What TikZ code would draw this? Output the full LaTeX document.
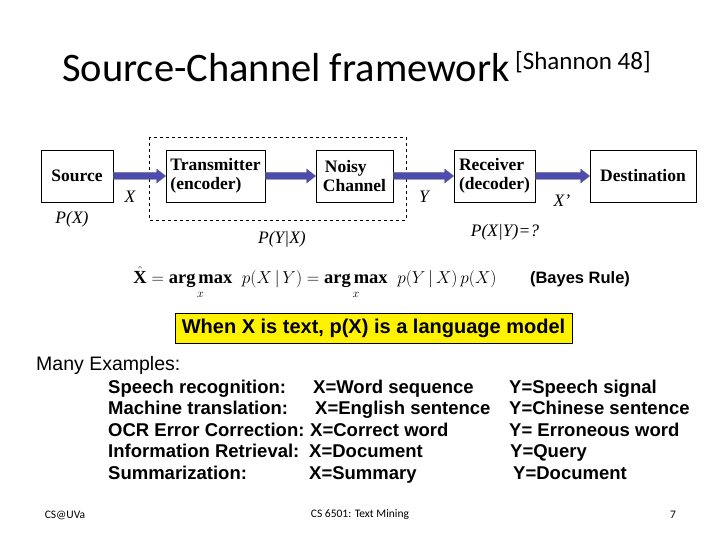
\documentclass[tikz,border=0pt]{standalone}
\usepackage{amsmath}
\usepackage{fontspec}
\setmainfont{Liberation Serif}
\newfontfamily\calfont{Carlito}
\newfontfamily\ars{Liberation Sans}
\usetikzlibrary{arrows.meta}
\begin{document}
\begin{tikzpicture}[x=1pt,y=-1pt,
 box/.style={draw,line width=0.6pt,font=\bfseries\fontsize{17.5}{19}\selectfont,align=left,inner sep=0pt},
 lab/.style={font=\itshape\fontsize{17.5}{19}\selectfont,inner sep=0pt},
 flow/.style={draw=black!60,fill=blue!55!black!70!white,line width=0.3pt},
 ex/.style={font=\ars\bfseries\fontsize{18.5}{20}\selectfont,anchor=base west,inner sep=0pt}]
\useasboundingbox (0,0) rectangle (720,540);
\node[anchor=base west,inner sep=0pt,font=\calfont\fontsize{40.5}{44}\selectfont] (title) at (62,82) {Source-Channel framework};
\node[anchor=base west,inner sep=0pt,font=\calfont\fontsize{25}{28}\selectfont] (sh) at (515,70) {[Shannon 48]};
% boxes
\draw[dashed,line width=0.6pt] (149,137) rectangle (406,220);
\node[box,minimum width=72,minimum height=52] (src) at (77,176) {Source};
\node[box,minimum width=99,minimum height=52] (tx) at (215.5,176) {Transmitter\\(encoder)};
\node[box,minimum width=77,minimum height=52] (ch) at (354.5,176) {\hspace*{2pt}Noisy\\Channel};
\node[box,minimum width=81,minimum height=52] (rx) at (494.5,176) {Receiver\\(decoder)};
\node[box,minimum width=106,minimum height=52] (dst) at (643,176) {Destination};
% fat arrows
\foreach \a/\b in {src/tx,tx/ch,ch/rx,rx/dst}{
 \path (\a.east) coordinate (s) (\b.west) coordinate (t);
 \fill[flow] ([yshift=-3.5]s) -- ([xshift=-9,yshift=-3.5]t) -- ([xshift=-9,yshift=-7]t) -- (t) -- ([xshift=-9,yshift=7]t) -- ([xshift=-9,yshift=3.5]t) -- ([yshift=3.5]s) -- cycle;
}
\node[lab] (x) at (130,197) {X};
\node[lab] (px) at (72,219) {P(X)};
\node[lab] (pyx) at (282,239) {P(Y|X)};
\node[lab] (y) at (424,197) {Y};
\node[lab] (xp) at (562,201) {X'};
\node[lab] (pxy) at (505,232) {P(X|Y)=?};
\node[inner sep=0pt,font=\fontsize{18.5}{20}\selectfont] (eq) at (315,283) {$\hat{\mathbf{X}}=\underset{x}{\mathbf{arg\,max}}\;\;p(X\,|\,Y)=\underset{x}{\mathbf{arg\,max}}\;\;p(Y\,|\,X)\,p(X)$};
\node[inner sep=0pt,font=\ars\bfseries\fontsize{16.5}{18}\selectfont] (bayes) at (580,279) {(Bayes Rule)};
\node[draw,line width=0.6pt,fill=yellow,minimum width=397,minimum height=30,inner sep=0pt,font=\ars\bfseries\fontsize{20}{22}\selectfont] (lm) at (373.5,328) {When X is text, p(X) is a language model};
\node[ex,font=\ars\fontsize{19.5}{22}\selectfont] (many) at (36,370) {Many Examples:};
\node[ex] (e1) at (108,393) {Speech recognition:};
\node[ex] (e2) at (108,414.5) {Machine translation:};
\node[ex] (e3) at (108,436) {OCR Error Correction:};
\node[ex] (e4) at (108,457.5) {Information Retrieval:};
\node[ex] (e5) at (108,479) {Summarization:};
\node[ex] (f1) at (313,393) {X=Word sequence};
\node[ex] (f2) at (315,414.5) {X=English sentence};
\node[ex] (f3) at (310,436) {X=Correct word};
\node[ex] (f4) at (309,457.5) {X=Document};
\node[ex] (f5) at (309,479) {X=Summary};
\node[ex] (g1) at (509,393) {Y=Speech signal};
\node[ex] (g2) at (509,414.5) {Y=Chinese sentence};
\node[ex] (g3) at (509,436) {Y= Erroneous word};
\node[ex] (g4) at (510,457.5) {Y=Query};
\node[ex] (g5) at (513,479) {Y=Document};
\node[inner sep=0pt,font=\calfont\fontsize{11.5}{13}\selectfont] (f1b) at (65,515) {CS@UVa};
\node[inner sep=0pt,font=\calfont\fontsize{11.5}{13}\selectfont] (f2b) at (360,515) {CS 6501: Text Mining};
\node[inner sep=0pt,font=\calfont\fontsize{11.5}{13}\selectfont] (f3b) at (673,515) {7};
\end{tikzpicture}
\end{document}
